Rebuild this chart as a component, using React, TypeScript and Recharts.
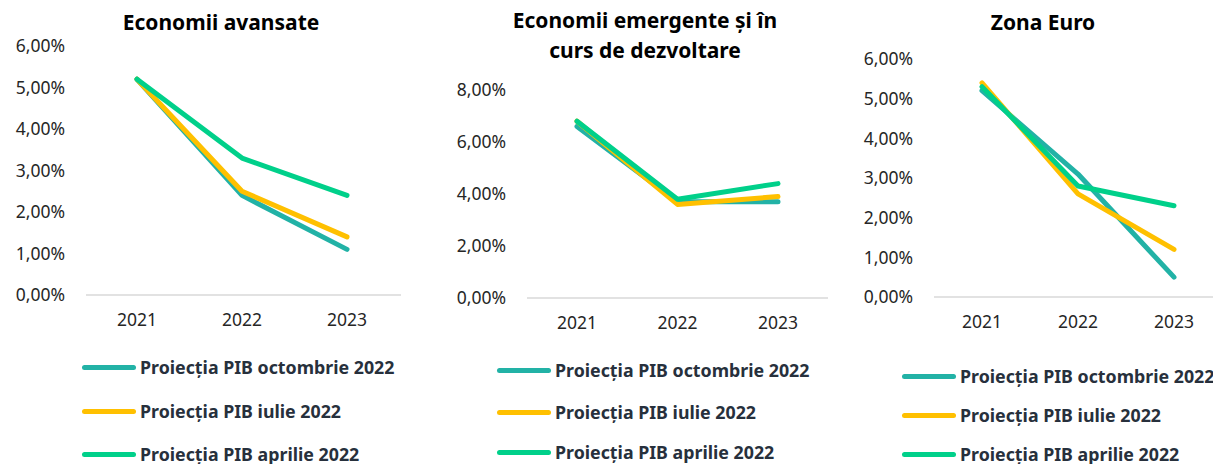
import React from 'react';
import { LineChart, Line, XAxis, YAxis } from 'recharts';

const years = ['2021', '2022', '2023'];
const seriesNames = ['Proiecția PIB octombrie 2022', 'Proiecția PIB iulie 2022', 'Proiecția PIB aprilie 2022'];
const seriesColors = ['#22B2A6', '#FFC000', '#00D08A'];

const advOct = [5.2, 2.4, 1.1];
const advJul = [5.2, 2.5, 1.4];
const advApr = [5.2, 3.3, 2.4];

const emOct = [6.6, 3.7, 3.7];
const emJul = [6.8, 3.6, 3.9];
const emApr = [6.8, 3.8, 4.4];

const euOct = [5.2, 3.1, 0.5];
const euJul = [5.4, 2.6, 1.2];
const euApr = [5.3, 2.8, 2.3];

const ticks6 = [0, 1, 2, 3, 4, 5, 6];
const ticks8 = [0, 2, 4, 6, 8];

const FONT = '"Noto Sans", sans-serif';

function build(a: number[], b: number[], c: number[]) {
  return years.map((y, i) => ({ year: y, s0: a[i], s1: b[i], s2: c[i] }));
}

const fmt = (v: number) => v.toFixed(2).replace('.', ',') + '%';

type PanelProps = {
  left: number;
  width: number;
  plotLeft: number;
  plotRight: number;
  plotTop: number;
  plotBottom: number;
  yMax: number;
  ticks: number[];
  data: any[];
  padL: number;
  padR: number;
  title: string[];
  titleX: number;
  titleY: number;
  legendLineX: number;
  legendRows: number[];
};

function Panel(p: PanelProps) {
  const H = 464;
  return (
    <div style={{ position: 'absolute', left: p.left, top: 0, width: p.width, height: H }}>
      <div style={{ position: 'absolute', left: p.titleX - 200, width: 400, top: p.titleY, textAlign: 'center', fontFamily: FONT, fontWeight: 700, fontSize: 21, lineHeight: '30px', color: '#000' }}>
        {p.title.map((t, i) => <div key={i}>{t}</div>)}
      </div>
      <LineChart
        width={p.width}
        height={H}
        data={p.data}
        margin={{ top: p.plotTop, left: 0, right: p.width - p.plotRight, bottom: H - p.plotBottom - 30 }}
        style={{ position: 'absolute', left: 0, top: 0 }}
      >
        <XAxis
          dataKey="year"
          padding={{ left: p.padL, right: p.padR }}
          tickLine={false}
          tickSize={0}
          tickMargin={19}
          axisLine={{ stroke: '#D9D9D9', strokeWidth: 1.5 }}
          tick={{ fill: '#262626', fontSize: 17.5, fontFamily: FONT }}
          height={30}
        />
        <YAxis
          width={p.plotLeft}
          domain={[0, p.yMax]}
          ticks={p.ticks}
          tickFormatter={fmt}
          tickLine={false}
          axisLine={false}
          tickSize={0}
          tickMargin={21}
          tick={{ fill: '#262626', fontSize: 17.5, fontFamily: FONT }}
          interval={0}
        />
        {[0, 1, 2].map((i) => (
          <Line
            key={i}
            dataKey={'s' + i}
            name={seriesNames[i]}
            stroke={seriesColors[i]}
            strokeWidth={5}
            strokeLinecap="round"
            strokeLinejoin="round"
            dot={false}
            activeDot={false}
            isAnimationActive={false}
            type="linear"
          />
        ))}
      </LineChart>
      {seriesNames.map((n, i) => (
        <div key={n} style={{ position: 'absolute', left: p.legendLineX, top: p.legendRows[i] - 12, height: 24, display: 'flex', alignItems: 'center', whiteSpace: 'nowrap' }}>
          <div style={{ width: 54, height: 5, borderRadius: 3, background: seriesColors[i] }} />
          <span style={{ marginLeft: 4, fontFamily: FONT, fontWeight: 700, fontSize: 17.8, color: '#27303C' }}>{n}</span>
        </div>
      ))}
    </div>
  );
}

export default function App() {
  return (
    <div style={{ position: 'absolute', left: 0, top: 0, width: 1213, height: 464, background: '#fff', overflow: 'hidden' }}>
      <Panel
        left={0}
        width={410}
        plotLeft={86}
        plotRight={401}
        plotTop={46}
        plotBottom={295}
        yMax={6}
        ticks={ticks6}
        data={build(advOct, advJul, advApr)}
        padL={51}
        padR={54}
        title={['Economii avansate']}
        titleX={221}
        titleY={7}
        legendLineX={82}
        legendRows={[367, 411, 454]}
      />
      <Panel
        left={410}
        width={420}
        plotLeft={117}
        plotRight={418}
        plotTop={90}
        plotBottom={298}
        yMax={8}
        ticks={ticks8}
        data={build(emOct, emJul, emApr)}
        padL={50}
        padR={50}
        title={['Economii emergente și în', 'curs de dezvoltare']}
        titleX={235}
        titleY={5}
        legendLineX={87}
        legendRows={[370, 412, 452]}
      />
      <Panel
        left={820}
        width={393}
        plotLeft={114}
        plotRight={402}
        plotTop={59}
        plotBottom={297}
        yMax={6}
        ticks={ticks6}
        data={build(euOct, euJul, euApr)}
        padL={48}
        padR={48}
        title={['Zona Euro']}
        titleX={223}
        titleY={7}
        legendLineX={82}
        legendRows={[376, 415, 454]}
      />
    </div>
  );
}
